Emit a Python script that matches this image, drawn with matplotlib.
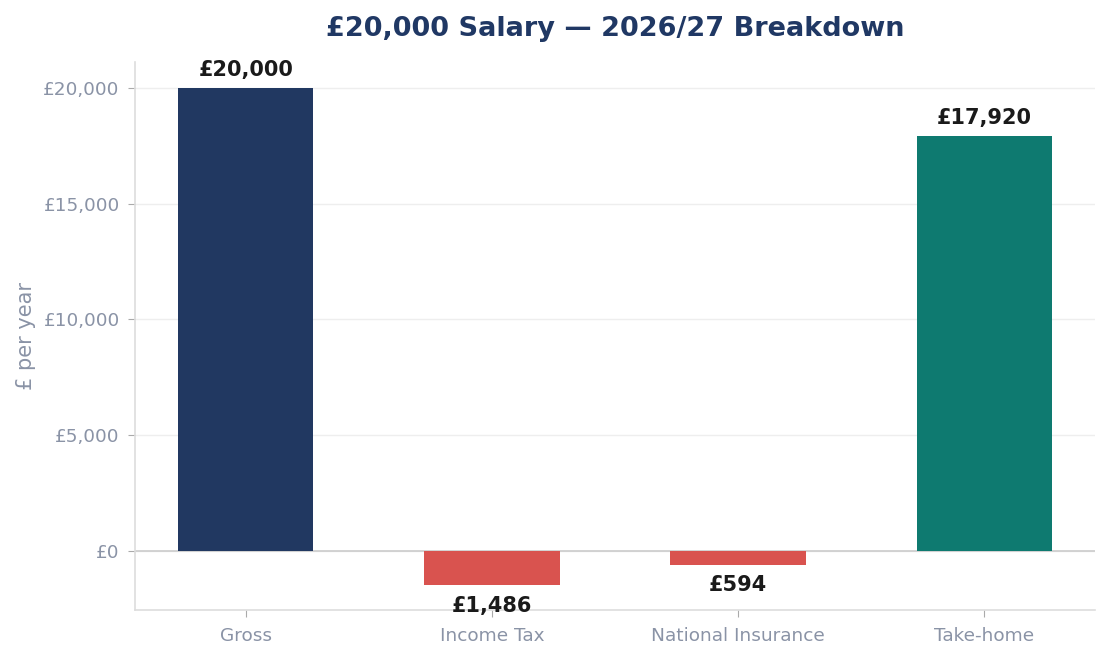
import matplotlib
matplotlib.use("Agg")
import matplotlib.pyplot as plt

# Datos del desglose salarial
categories = ["Gross", "Income Tax", "National Insurance", "Take-home"]
values = [20000, -1486, -594, 17920]
colors = ["#213861", "#d9534f", "#d9534f", "#0e7a70"]

fig, ax = plt.subplots(figsize=(11.1, 6.59), dpi=100)
fig.subplots_adjust(left=0.1216, right=0.9865, top=0.906, bottom=0.0744)

x = range(len(categories))
bars = ax.bar(x, values, width=0.55, color=colors, zorder=3)

# Etiquetas de valor
for xi, v in zip(x, values):
    label = f"£{abs(v):,}"
    if v >= 0:
        ax.annotate(label, (xi, v), xytext=(0, 6), textcoords="offset points",
                    ha="center", va="bottom", fontsize=15, fontweight="bold", color="#1a1a1a")
    else:
        ax.annotate(label, (xi, v), xytext=(0, -7.5), textcoords="offset points",
                    ha="center", va="top", fontsize=15, fontweight="bold", color="#1a1a1a")

ax.axhline(0, color="#cccccc", linewidth=1.2, zorder=2)

ax.set_xticks(list(x))
ax.set_xticklabels(categories)
ax.set_yticks([0, 5000, 10000, 15000, 20000])
ax.set_yticklabels([f"£{t:,}" for t in [0, 5000, 10000, 15000, 20000]])
ax.set_xlim(-0.45, 3.45)
ax.set_ylim(-2549, 21123)

ax.tick_params(axis="both", colors="#8a93a6", labelsize=13.3, length=5)
ax.tick_params(axis="x", pad=7.5)
ax.tick_params(axis="y", pad=6)
ax.tick_params(axis="both", color="#aaaaaa")
ax.set_ylabel("£ per year", color="#8a93a6", fontsize=15, labelpad=5)
ax.set_title("£20,000 Salary — 2026/27 Breakdown", fontsize=19.5, fontweight="bold",
             color="#203864", pad=19)

ax.grid(axis="y", color="#eeeeee", linewidth=1, zorder=0)
for side in ["top", "right"]:
    ax.spines[side].set_visible(False)
for side in ["left", "bottom"]:
    ax.spines[side].set_color("#dddddd")
    ax.spines[side].set_linewidth(1.2)

plt.savefig("out.png", dpi=100)
